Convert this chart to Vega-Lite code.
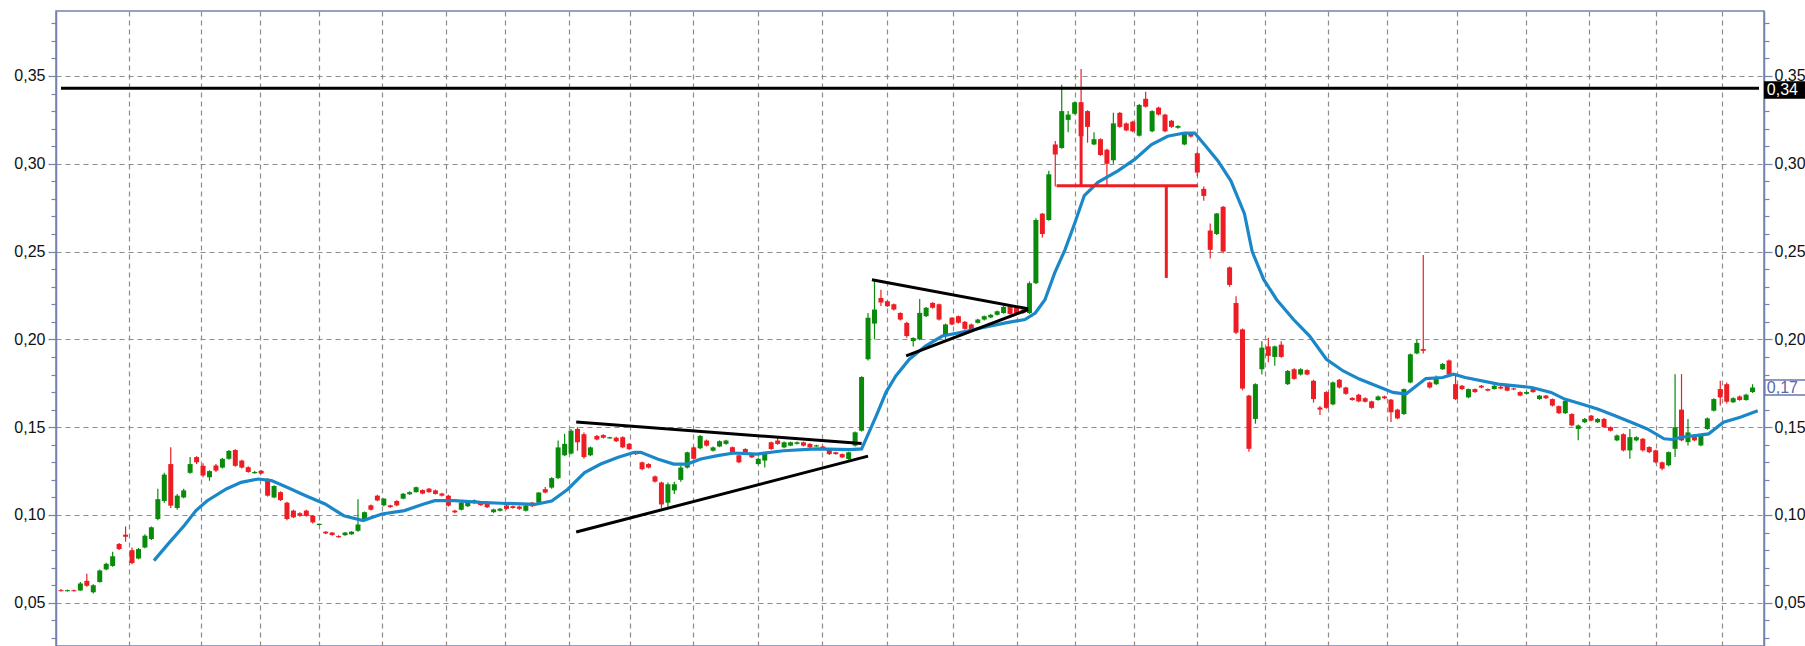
{
"$schema":"https://vega.github.io/schema/vega-lite/v6.json",
"autosize":{"type":"none"},
"width":1708,"height":635,
"padding":{"left":56,"right":41,"top":11,"bottom":0},
"background":"#ffffff",
"config":{"view":{"stroke":"#7483ad","strokeWidth":1.5}},
"datasets":{
"candles":[
{"t":0,"o":0.0572,"h":0.0578,"l":0.0565,"c":0.0566},{"t":1,"o":0.0566,"h":0.0575,"l":0.0564,"c":0.0572},{"t":2,"o":0.0572,"h":0.0576,"l":0.0565,"c":0.0566},{"t":3,"o":0.057,"h":0.0618,"l":0.0568,"c":0.061},{"t":4,"o":0.0625,"h":0.0665,"l":0.0592,"c":0.0597},{"t":5,"o":0.056,"h":0.0606,"l":0.0553,"c":0.06},{"t":6,"o":0.0618,"h":0.069,"l":0.0615,"c":0.0684},{"t":7,"o":0.069,"h":0.0728,"l":0.0686,"c":0.0722},{"t":8,"o":0.071,"h":0.079,"l":0.0705,"c":0.0765},{"t":9,"o":0.0835,"h":0.084,"l":0.08,"c":0.0806},
{"t":10,"o":0.0888,"h":0.0935,"l":0.0848,"c":0.0876},{"t":11,"o":0.08,"h":0.0815,"l":0.072,"c":0.0726},{"t":12,"o":0.0752,"h":0.0812,"l":0.0748,"c":0.0806},{"t":13,"o":0.0815,"h":0.089,"l":0.081,"c":0.0882},{"t":14,"o":0.0863,"h":0.0935,"l":0.0858,"c":0.093},{"t":15,"o":0.0977,"h":0.115,"l":0.097,"c":0.109},{"t":16,"o":0.108,"h":0.124,"l":0.107,"c":0.123},{"t":17,"o":0.129,"h":0.1386,"l":0.104,"c":0.1053},{"t":18,"o":0.104,"h":0.112,"l":0.103,"c":0.111},{"t":19,"o":0.11,"h":0.115,"l":0.1095,"c":0.114},
{"t":20,"o":0.124,"h":0.133,"l":0.1235,"c":0.129},{"t":21,"o":0.133,"h":0.1335,"l":0.129,"c":0.13},{"t":22,"o":0.128,"h":0.1295,"l":0.1215,"c":0.1225},{"t":23,"o":0.1215,"h":0.1255,"l":0.1195,"c":0.125},{"t":24,"o":0.1282,"h":0.129,"l":0.1245,"c":0.1253},{"t":25,"o":0.127,"h":0.1325,"l":0.1265,"c":0.132},{"t":26,"o":0.132,"h":0.137,"l":0.1315,"c":0.1365},{"t":27,"o":0.137,"h":0.1375,"l":0.1275,"c":0.128},{"t":28,"o":0.131,"h":0.1315,"l":0.1265,"c":0.127},{"t":29,"o":0.1272,"h":0.1278,"l":0.124,"c":0.1245},
{"t":30,"o":0.1238,"h":0.125,"l":0.1235,"c":0.1245},{"t":31,"o":0.1252,"h":0.1256,"l":0.1232,"c":0.1236},{"t":32,"o":0.1205,"h":0.121,"l":0.1105,"c":0.111},{"t":33,"o":0.11,"h":0.117,"l":0.1095,"c":0.1165},{"t":34,"o":0.113,"h":0.1135,"l":0.108,"c":0.1085},{"t":35,"o":0.107,"h":0.1075,"l":0.097,"c":0.0977},{"t":36,"o":0.1025,"h":0.103,"l":0.0982,"c":0.0987},{"t":37,"o":0.101,"h":0.1015,"l":0.099,"c":0.0995},{"t":38,"o":0.1025,"h":0.103,"l":0.099,"c":0.0995},{"t":39,"o":0.0996,"h":0.1,"l":0.0952,"c":0.0958},
{"t":40,"o":0.0943,"h":0.0952,"l":0.094,"c":0.095},{"t":41,"o":0.0905,"h":0.0908,"l":0.089,"c":0.0895},{"t":42,"o":0.09,"h":0.0903,"l":0.0882,"c":0.0886},{"t":43,"o":0.088,"h":0.0884,"l":0.087,"c":0.0873},{"t":44,"o":0.0885,"h":0.0903,"l":0.0882,"c":0.09},{"t":45,"o":0.089,"h":0.0908,"l":0.0887,"c":0.0905},{"t":46,"o":0.091,"h":0.109,"l":0.0905,"c":0.0946},{"t":47,"o":0.0977,"h":0.102,"l":0.0972,"c":0.1016},{"t":48,"o":0.1055,"h":0.106,"l":0.1025,"c":0.103},{"t":49,"o":0.111,"h":0.1115,"l":0.1078,"c":0.1083},
{"t":50,"o":0.1055,"h":0.1096,"l":0.105,"c":0.1093},{"t":51,"o":0.1055,"h":0.1058,"l":0.104,"c":0.1045},{"t":52,"o":0.108,"h":0.1084,"l":0.105,"c":0.1055},{"t":53,"o":0.1093,"h":0.1125,"l":0.109,"c":0.1121},{"t":54,"o":0.1118,"h":0.1135,"l":0.1115,"c":0.113},{"t":55,"o":0.113,"h":0.1162,"l":0.1128,"c":0.1158},{"t":56,"o":0.1142,"h":0.1146,"l":0.1118,"c":0.1122},{"t":57,"o":0.115,"h":0.1154,"l":0.1126,"c":0.113},{"t":58,"o":0.114,"h":0.1145,"l":0.1116,"c":0.112},{"t":59,"o":0.1122,"h":0.1126,"l":0.1106,"c":0.111},
{"t":60,"o":0.111,"h":0.1115,"l":0.1048,"c":0.1053},{"t":61,"o":0.1025,"h":0.103,"l":0.101,"c":0.1015},{"t":62,"o":0.103,"h":0.1074,"l":0.1026,"c":0.107},{"t":63,"o":0.105,"h":0.1074,"l":0.1046,"c":0.107},{"t":64,"o":0.1068,"h":0.1088,"l":0.1064,"c":0.1084},{"t":65,"o":0.1072,"h":0.1076,"l":0.1052,"c":0.1056},{"t":66,"o":0.1066,"h":0.107,"l":0.104,"c":0.1044},{"t":67,"o":0.1016,"h":0.1036,"l":0.1012,"c":0.1032},{"t":68,"o":0.1024,"h":0.104,"l":0.102,"c":0.1036},{"t":69,"o":0.1054,"h":0.1058,"l":0.103,"c":0.1035},
{"t":70,"o":0.105,"h":0.1054,"l":0.1036,"c":0.104},{"t":71,"o":0.1048,"h":0.1052,"l":0.103,"c":0.1035},{"t":72,"o":0.1024,"h":0.1058,"l":0.102,"c":0.1054},{"t":73,"o":0.107,"h":0.1074,"l":0.1046,"c":0.105},{"t":74,"o":0.107,"h":0.113,"l":0.1066,"c":0.1128},{"t":75,"o":0.1147,"h":0.116,"l":0.1124,"c":0.1128},{"t":76,"o":0.1156,"h":0.1215,"l":0.115,"c":0.121},{"t":77,"o":0.121,"h":0.1424,"l":0.1205,"c":0.1385},{"t":78,"o":0.134,"h":0.1462,"l":0.1335,"c":0.1405},{"t":79,"o":0.135,"h":0.149,"l":0.1345,"c":0.148},
{"t":80,"o":0.149,"h":0.15,"l":0.1366,"c":0.1414},{"t":81,"o":0.146,"h":0.147,"l":0.132,"c":0.133},{"t":82,"o":0.134,"h":0.139,"l":0.1335,"c":0.1385},{"t":83,"o":0.145,"h":0.1455,"l":0.1426,"c":0.143},{"t":84,"o":0.1455,"h":0.146,"l":0.1436,"c":0.144},{"t":85,"o":0.1436,"h":0.1446,"l":0.1434,"c":0.1443},{"t":86,"o":0.144,"h":0.1446,"l":0.1415,"c":0.142},{"t":87,"o":0.1443,"h":0.1448,"l":0.138,"c":0.1385},{"t":88,"o":0.1405,"h":0.141,"l":0.137,"c":0.1375},{"t":89,"o":0.1356,"h":0.136,"l":0.1342,"c":0.1346},
{"t":90,"o":0.13,"h":0.1305,"l":0.1255,"c":0.1261},{"t":91,"o":0.129,"h":0.1295,"l":0.1265,"c":0.127},{"t":92,"o":0.122,"h":0.1225,"l":0.1185,"c":0.119},{"t":93,"o":0.1185,"h":0.119,"l":0.104,"c":0.106},{"t":94,"o":0.107,"h":0.1185,"l":0.104,"c":0.1175},{"t":95,"o":0.114,"h":0.119,"l":0.112,"c":0.1175},{"t":96,"o":0.12,"h":0.128,"l":0.119,"c":0.127},{"t":97,"o":0.127,"h":0.136,"l":0.1265,"c":0.1357},{"t":98,"o":0.1385,"h":0.139,"l":0.1315,"c":0.132},{"t":99,"o":0.138,"h":0.1455,"l":0.1375,"c":0.145},
{"t":100,"o":0.1424,"h":0.143,"l":0.139,"c":0.1395},{"t":101,"o":0.1366,"h":0.139,"l":0.1362,"c":0.1385},{"t":102,"o":0.139,"h":0.1425,"l":0.1386,"c":0.142},{"t":103,"o":0.1405,"h":0.1428,"l":0.14,"c":0.1424},{"t":104,"o":0.1386,"h":0.139,"l":0.1352,"c":0.1357},{"t":105,"o":0.134,"h":0.1345,"l":0.1295,"c":0.13},{"t":106,"o":0.1376,"h":0.138,"l":0.1352,"c":0.1357},{"t":107,"o":0.1347,"h":0.135,"l":0.1324,"c":0.1328},{"t":108,"o":0.129,"h":0.1325,"l":0.1286,"c":0.132},{"t":109,"o":0.131,"h":0.135,"l":0.127,"c":0.1347},
{"t":110,"o":0.1414,"h":0.1418,"l":0.1372,"c":0.1376},{"t":111,"o":0.1424,"h":0.144,"l":0.14,"c":0.1405},{"t":112,"o":0.1385,"h":0.1418,"l":0.138,"c":0.1414},{"t":113,"o":0.1395,"h":0.1418,"l":0.1392,"c":0.1414},{"t":114,"o":0.1405,"h":0.1418,"l":0.1402,"c":0.1414},{"t":115,"o":0.1414,"h":0.1418,"l":0.139,"c":0.1395},{"t":116,"o":0.1405,"h":0.1408,"l":0.138,"c":0.1385},{"t":117,"o":0.139,"h":0.14,"l":0.1388,"c":0.1397},{"t":118,"o":0.139,"h":0.1394,"l":0.137,"c":0.1375},{"t":119,"o":0.1376,"h":0.138,"l":0.1342,"c":0.1347},
{"t":120,"o":0.1357,"h":0.136,"l":0.1343,"c":0.1347},{"t":121,"o":0.1347,"h":0.135,"l":0.1324,"c":0.1328},{"t":122,"o":0.1319,"h":0.136,"l":0.1315,"c":0.1357},{"t":123,"o":0.1395,"h":0.1475,"l":0.139,"c":0.1471},{"t":124,"o":0.148,"h":0.179,"l":0.1475,"c":0.1786},{"t":125,"o":0.1887,"h":0.215,"l":0.188,"c":0.2123},{"t":126,"o":0.209,"h":0.234,"l":0.2,"c":0.217},{"t":127,"o":0.2236,"h":0.2283,"l":0.219,"c":0.221},{"t":128,"o":0.2217,"h":0.2222,"l":0.2185,"c":0.2189},{"t":129,"o":0.22,"h":0.2205,"l":0.2165,"c":0.217},
{"t":130,"o":0.215,"h":0.2155,"l":0.2108,"c":0.2113},{"t":131,"o":0.2094,"h":0.21,"l":0.201,"c":0.2019},{"t":132,"o":0.199,"h":0.2012,"l":0.196,"c":0.2008},{"t":133,"o":0.2,"h":0.223,"l":0.1995,"c":0.2151},{"t":134,"o":0.2132,"h":0.2185,"l":0.2128,"c":0.218},{"t":135,"o":0.2208,"h":0.2212,"l":0.2175,"c":0.218},{"t":136,"o":0.22,"h":0.2205,"l":0.2108,"c":0.2113},{"t":137,"o":0.2019,"h":0.209,"l":0.2,"c":0.2085},{"t":138,"o":0.2123,"h":0.2128,"l":0.208,"c":0.2085},{"t":139,"o":0.2132,"h":0.2136,"l":0.209,"c":0.2095},
{"t":140,"o":0.21,"h":0.2104,"l":0.2055,"c":0.206},{"t":141,"o":0.2085,"h":0.209,"l":0.205,"c":0.2056},{"t":142,"o":0.2094,"h":0.2118,"l":0.209,"c":0.2113},{"t":143,"o":0.2113,"h":0.2136,"l":0.2108,"c":0.2132},{"t":144,"o":0.2125,"h":0.2145,"l":0.212,"c":0.214},{"t":145,"o":0.214,"h":0.2165,"l":0.2136,"c":0.216},{"t":146,"o":0.215,"h":0.219,"l":0.2146,"c":0.2185},{"t":147,"o":0.2189,"h":0.2194,"l":0.214,"c":0.2145},{"t":148,"o":0.218,"h":0.2185,"l":0.214,"c":0.2145},{"t":149,"o":0.217,"h":0.2175,"l":0.2145,"c":0.215},
{"t":150,"o":0.215,"h":0.233,"l":0.2145,"c":0.232},{"t":151,"o":0.232,"h":0.269,"l":0.2315,"c":0.268},{"t":152,"o":0.2716,"h":0.272,"l":0.258,"c":0.26},{"t":153,"o":0.268,"h":0.296,"l":0.2675,"c":0.294},{"t":154,"o":0.311,"h":0.313,"l":0.287,"c":0.3053},{"t":155,"o":0.309,"h":0.345,"l":0.3085,"c":0.33},{"t":156,"o":0.325,"h":0.33,"l":0.318,"c":0.328},{"t":157,"o":0.3285,"h":0.3355,"l":0.328,"c":0.335},{"t":158,"o":0.335,"h":0.354,"l":0.31,"c":0.3157},{"t":159,"o":0.33,"h":0.3305,"l":0.312,"c":0.321},
{"t":160,"o":0.311,"h":0.318,"l":0.3105,"c":0.314},{"t":161,"o":0.314,"h":0.3145,"l":0.3045,"c":0.305},{"t":162,"o":0.308,"h":0.3085,"l":0.2875,"c":0.3},{"t":163,"o":0.302,"h":0.329,"l":0.3,"c":0.323},{"t":164,"o":0.329,"h":0.3295,"l":0.3205,"c":0.321},{"t":165,"o":0.323,"h":0.3235,"l":0.3185,"c":0.319},{"t":166,"o":0.324,"h":0.3245,"l":0.318,"c":0.3185},{"t":167,"o":0.316,"h":0.334,"l":0.3155,"c":0.3335},{"t":168,"o":0.337,"h":0.341,"l":0.332,"c":0.3325},{"t":169,"o":0.3185,"h":0.3305,"l":0.318,"c":0.33},
{"t":170,"o":0.332,"h":0.3325,"l":0.3275,"c":0.328},{"t":171,"o":0.328,"h":0.3285,"l":0.318,"c":0.3185},{"t":172,"o":0.3245,"h":0.325,"l":0.3205,"c":0.321},{"t":173,"o":0.3205,"h":0.322,"l":0.32,"c":0.3215},{"t":174,"o":0.311,"h":0.318,"l":0.3105,"c":0.3175},{"t":175,"o":0.3175,"h":0.318,"l":0.315,"c":0.3155},{"t":176,"o":0.306,"h":0.307,"l":0.293,"c":0.295},{"t":177,"o":0.2857,"h":0.287,"l":0.279,"c":0.2817},{"t":178,"o":0.262,"h":0.266,"l":0.246,"c":0.251},{"t":179,"o":0.26,"h":0.272,"l":0.2595,"c":0.2717},
{"t":180,"o":0.2755,"h":0.276,"l":0.249,"c":0.25},{"t":181,"o":0.241,"h":0.2415,"l":0.23,"c":0.231},{"t":182,"o":0.2207,"h":0.2245,"l":0.203,"c":0.2038},{"t":183,"o":0.2057,"h":0.2062,"l":0.171,"c":0.172},{"t":184,"o":0.168,"h":0.1685,"l":0.136,"c":0.1377},{"t":185,"o":0.1547,"h":0.175,"l":0.152,"c":0.1745},{"t":186,"o":0.183,"h":0.199,"l":0.18,"c":0.1953},{"t":187,"o":0.196,"h":0.201,"l":0.187,"c":0.1906},{"t":188,"o":0.19,"h":0.1965,"l":0.185,"c":0.196},{"t":189,"o":0.197,"h":0.199,"l":0.1895,"c":0.19},
{"t":190,"o":0.1745,"h":0.1825,"l":0.174,"c":0.182},{"t":191,"o":0.183,"h":0.1835,"l":0.177,"c":0.1775},{"t":192,"o":0.18,"h":0.1835,"l":0.1795,"c":0.183},{"t":193,"o":0.1825,"h":0.183,"l":0.1796,"c":0.18},{"t":194,"o":0.1764,"h":0.177,"l":0.164,"c":0.166},{"t":195,"o":0.1612,"h":0.162,"l":0.157,"c":0.16},{"t":196,"o":0.17,"h":0.1705,"l":0.1605,"c":0.161},{"t":197,"o":0.163,"h":0.176,"l":0.1625,"c":0.1755},{"t":198,"o":0.177,"h":0.1775,"l":0.172,"c":0.1726},{"t":199,"o":0.1726,"h":0.173,"l":0.1685,"c":0.169},
{"t":200,"o":0.1667,"h":0.167,"l":0.165,"c":0.1655},{"t":201,"o":0.1685,"h":0.169,"l":0.1642,"c":0.1647},{"t":202,"o":0.1665,"h":0.167,"l":0.164,"c":0.1645},{"t":203,"o":0.1647,"h":0.165,"l":0.1605,"c":0.161},{"t":204,"o":0.1655,"h":0.168,"l":0.165,"c":0.1675},{"t":205,"o":0.1675,"h":0.168,"l":0.166,"c":0.1665},{"t":206,"o":0.1657,"h":0.166,"l":0.153,"c":0.1585},{"t":207,"o":0.16,"h":0.1605,"l":0.1545,"c":0.155},{"t":208,"o":0.1575,"h":0.172,"l":0.157,"c":0.1717},{"t":209,"o":0.1755,"h":0.192,"l":0.175,"c":0.1915},
{"t":210,"o":0.192,"h":0.2,"l":0.1915,"c":0.198},{"t":211,"o":0.1945,"h":0.248,"l":0.192,"c":0.1935},{"t":212,"o":0.1755,"h":0.176,"l":0.172,"c":0.1726},{"t":213,"o":0.1745,"h":0.1795,"l":0.174,"c":0.1774},{"t":214,"o":0.183,"h":0.1865,"l":0.1825,"c":0.186},{"t":215,"o":0.188,"h":0.1885,"l":0.1795,"c":0.18},{"t":216,"o":0.1745,"h":0.18,"l":0.1655,"c":0.166},{"t":217,"o":0.1736,"h":0.174,"l":0.1712,"c":0.1717},{"t":218,"o":0.167,"h":0.172,"l":0.1665,"c":0.1717},{"t":219,"o":0.1717,"h":0.172,"l":0.1696,"c":0.17},
{"t":220,"o":0.1736,"h":0.174,"l":0.1722,"c":0.1726},{"t":221,"o":0.1717,"h":0.172,"l":0.1704,"c":0.1708},{"t":222,"o":0.1717,"h":0.174,"l":0.1714,"c":0.1736},{"t":223,"o":0.173,"h":0.1734,"l":0.1716,"c":0.172},{"t":224,"o":0.1736,"h":0.174,"l":0.1704,"c":0.1708},{"t":225,"o":0.1721,"h":0.1725,"l":0.1711,"c":0.1715},{"t":226,"o":0.17,"h":0.1704,"l":0.1676,"c":0.168},{"t":227,"o":0.169,"h":0.1704,"l":0.1686,"c":0.17},{"t":228,"o":0.1717,"h":0.172,"l":0.1696,"c":0.17},{"t":229,"o":0.166,"h":0.1684,"l":0.1656,"c":0.168},
{"t":230,"o":0.168,"h":0.1684,"l":0.1661,"c":0.1665},{"t":231,"o":0.166,"h":0.1664,"l":0.1618,"c":0.1623},{"t":232,"o":0.162,"h":0.1624,"l":0.1575,"c":0.158},{"t":233,"o":0.158,"h":0.1655,"l":0.1575,"c":0.165},{"t":234,"o":0.1575,"h":0.158,"l":0.1505,"c":0.151},{"t":235,"o":0.149,"h":0.1515,"l":0.1425,"c":0.151},{"t":236,"o":0.1528,"h":0.1552,"l":0.1524,"c":0.1547},{"t":237,"o":0.1566,"h":0.157,"l":0.1534,"c":0.1538},{"t":238,"o":0.1528,"h":0.1552,"l":0.1524,"c":0.1547},{"t":239,"o":0.1547,"h":0.1552,"l":0.1495,"c":0.15},
{"t":240,"o":0.15,"h":0.1504,"l":0.1476,"c":0.148},{"t":241,"o":0.1425,"h":0.1458,"l":0.142,"c":0.1453},{"t":242,"o":0.146,"h":0.1465,"l":0.1362,"c":0.1368},{"t":243,"o":0.1368,"h":0.149,"l":0.132,"c":0.1443},{"t":244,"o":0.1425,"h":0.1448,"l":0.142,"c":0.1443},{"t":245,"o":0.1434,"h":0.1438,"l":0.1362,"c":0.1368},{"t":246,"o":0.1387,"h":0.1392,"l":0.1352,"c":0.1358},{"t":247,"o":0.1368,"h":0.1372,"l":0.1295,"c":0.13},{"t":248,"o":0.13,"h":0.1305,"l":0.1255,"c":0.1264},{"t":249,"o":0.1283,"h":0.1362,"l":0.1278,"c":0.1358},
{"t":250,"o":0.1377,"h":0.1802,"l":0.133,"c":0.15},{"t":251,"o":0.16,"h":0.1802,"l":0.142,"c":0.1425},{"t":252,"o":0.1415,"h":0.1547,"l":0.1396,"c":0.147},{"t":253,"o":0.1453,"h":0.1458,"l":0.142,"c":0.1425},{"t":254,"o":0.1396,"h":0.1458,"l":0.1392,"c":0.1453},{"t":255,"o":0.149,"h":0.1555,"l":0.1485,"c":0.155},{"t":256,"o":0.1594,"h":0.1665,"l":0.159,"c":0.166},{"t":257,"o":0.1717,"h":0.1764,"l":0.1623,"c":0.167},{"t":258,"o":0.1745,"h":0.1755,"l":0.1635,"c":0.1645},{"t":259,"o":0.1642,"h":0.167,"l":0.1638,"c":0.1665},
{"t":260,"o":0.1675,"h":0.168,"l":0.165,"c":0.1655},{"t":261,"o":0.1655,"h":0.169,"l":0.165,"c":0.1685},{"t":262,"o":0.17,"h":0.1745,"l":0.1695,"c":0.1726}
],
"ma":[
{"t":14.4,"v":0.074},{"t":16.8,"v":0.0844},{"t":19.1,"v":0.094},{"t":20.9,"v":0.1025},{"t":22.6,"v":0.108},{"t":25.6,"v":0.1148},{"t":27.9,"v":0.1186},{"t":30.6,"v":0.1205},{"t":32.6,"v":0.1196},{"t":35,"v":0.1158},{"t":37.9,"v":0.111},{"t":40.9,"v":0.1063},{"t":43.8,"v":0.0996},{"t":46.8,"v":0.0968},{"t":49.7,"v":0.1006},{"t":53.2,"v":0.1025},{"t":56.2,"v":0.1063},{"t":57.9,"v":0.1082},{"t":60.9,"v":0.1082},{"t":65,"v":0.1072},{"t":68.2,"v":0.1067},{"t":73.4,"v":0.106},{"t":76,"v":0.108},{"t":78.5,"v":0.1147},{"t":81.1,"v":0.1242},{"t":83.6,"v":0.129},{"t":86.2,"v":0.1328},{"t":88.8,"v":0.1357},{"t":89.8,"v":0.1357},{"t":92.4,"v":0.1319},{"t":94.9,"v":0.129},{"t":97,"v":0.129},{"t":99.1,"v":0.1319},{"t":101.7,"v":0.1338},{"t":104.2,"v":0.1353},{"t":107.8,"v":0.1347},{"t":111.9,"v":0.1366},{"t":117,"v":0.1376},{"t":122.2,"v":0.1372},{"t":124,"v":0.1376},{"t":124.7,"v":0.1433},{"t":126.3,"v":0.1567},{"t":127.8,"v":0.17},{"t":129.3,"v":0.1792},{"t":131.4,"v":0.1887},{"t":133.9,"v":0.1962},{"t":136.5,"v":0.2019},{"t":139.1,"v":0.2038},{"t":142.7,"v":0.2066},{"t":146.3,"v":0.2094},{"t":149.3,"v":0.2113},{"t":150.9,"v":0.215},{"t":152.4,"v":0.2226},{"t":153.9,"v":0.2377},{"t":155.5,"v":0.251},{"t":157,"v":0.266},{"t":158.5,"v":0.2819},{"t":160.6,"v":0.2894},{"t":163.7,"v":0.296},{"t":166.3,"v":0.3025},{"t":168.9,"v":0.311},{"t":171.4,"v":0.3157},{"t":174,"v":0.3175},{"t":175.6,"v":0.3175},{"t":177.1,"v":0.311},{"t":179.2,"v":0.3016},{"t":181.2,"v":0.2903},{"t":183.3,"v":0.2716},{"t":184.5,"v":0.25},{"t":186.3,"v":0.234},{"t":188.3,"v":0.2226},{"t":190.9,"v":0.2113},{"t":193.4,"v":0.2019},{"t":196,"v":0.1887},{"t":198.6,"v":0.182},{"t":201.1,"v":0.1774},{"t":203.7,"v":0.1736},{"t":206.3,"v":0.1698},{"t":208.3,"v":0.1689},{"t":211.4,"v":0.1777},{"t":214,"v":0.1783},{"t":215.7,"v":0.1802},{"t":217.5,"v":0.1783},{"t":222.6,"v":0.1745},{"t":227.8,"v":0.1726},{"t":230.8,"v":0.1698},{"t":232.9,"v":0.166},{"t":235.5,"v":0.1632},{"t":238,"v":0.1604},{"t":240.6,"v":0.1566},{"t":243.2,"v":0.1528},{"t":245.7,"v":0.149},{"t":248.3,"v":0.1434},{"t":249.6,"v":0.143},{"t":250.9,"v":0.1443},{"t":253.4,"v":0.1453},{"t":255.2,"v":0.1462},{"t":257.5,"v":0.1528},{"t":260.1,"v":0.1557},{"t":262.8,"v":0.1594}
],
"ann":[
{"t":0,"t2":263,"y":0.343,"y2":0.343,"k":"black"},
{"t":79.8,"t2":124,"y":0.1529,"y2":0.1407,"k":"black"},
{"t":79.8,"t2":125,"y":0.0903,"y2":0.1335,"k":"black"},
{"t":125.6,"t2":149.8,"y":0.234,"y2":0.2174,"k":"black"},
{"t":130.9,"t2":149.8,"y":0.1906,"y2":0.217,"k":"black"},
{"t":154.2,"t2":176.1,"y":0.2875,"y2":0.2875,"k":"red"},
{"t":171.2,"t2":171.2,"y":0.2875,"y2":0.235,"k":"red"},
{"t":158,"t2":158,"y":0.2875,"y2":0.335,"k":"red"}
],
"boxes":[
{"t":263.9,"t2":272,"y":0.3375,"y2":0.3465,"m":0.342,"lab":"0,34","k":"black"},
{"t":263.9,"t2":272,"y":0.1683,"y2":0.1769,"m":0.1726,"lab":"0,17","k":"blue"}
]
},
"encoding":{
"x":{"field":"t","type":"quantitative","scale":{"domain":[0,263],"nice":false,"zero":false},
"axis":{"values":[10.5,21.7,30.8,39.9,49.7,59.7,68.7,78.7,88.2,97.9,107.9,117.8,128.0,138.1,148.0,157.1,166.2,175.9,186.5,196.3,205.4,216.3,226.9,236.6,247.1,257.2],"grid":true,"gridColor":"#8c8c8c","gridDash":[5,4],"gridWidth":1.2,"labels":false,"ticks":false,"domain":false,"title":null}}
},
"layer":[
{"data":{"name":"candles"},"mark":{"type":"rule","strokeWidth":1.2},
"encoding":{
"y":{"field":"l","type":"quantitative","scale":{"domain":[0.0254,0.387],"nice":false,"zero":false},
"axis":{"orient":"left","values":[0.03,0.04,0.05,0.06,0.07,0.08,0.09,0.1,0.11,0.12,0.13,0.14,0.15,0.16,0.17,0.18,0.19,0.2,0.21,0.22,0.23,0.24,0.25,0.26,0.27,0.28,0.29,0.3,0.31,0.32,0.33,0.34,0.35,0.36,0.37,0.38],"title":null,"grid":true,"gridColor":"#8c8c8c","gridDash":[5,4],"gridWidth":1.2,
"gridOpacity":{"condition":{"test":"round(datum.value*100)%5===0","value":1},"value":0},
"tickSize":{"condition":{"test":"round(datum.value*100)%5===0","value":8},"value":5},
"tickColor":"#7483ad","tickWidth":1.2,"domainColor":"#7483ad","domainWidth":1.5,
"labelExpr":"round(datum.value*100)%5===0 ? replace(format(datum.value,'.2f'),'.',',') : ''",
"labelFont":"Liberation Sans","labelFontSize":16,"labelColor":"#111111","labelPadding":3}},
"y2":{"field":"h"},
"color":{"condition":{"test":"datum.c >= datum.o","value":"#0a8a0a"},"value":"#ee1d24"}}},
{"data":{"name":"candles"},"mark":{"type":"bar","size":5},
"encoding":{
"y":{"field":"o","type":"quantitative","scale":{"domain":[0.0254,0.387],"nice":false,"zero":false},"axis":null},
"y2":{"field":"c"},
"color":{"condition":{"test":"datum.c >= datum.o","value":"#0a8a0a"},"value":"#ee1d24"}}},
{"data":{"name":"ma"},"mark":{"type":"line","color":"#1a87c9","strokeWidth":3.2},
"encoding":{
"y":{"field":"v","type":"quantitative","scale":{"domain":[0.0254,0.387],"nice":false,"zero":false},
"axis":{"orient":"right","values":[0.03,0.04,0.05,0.06,0.07,0.08,0.09,0.1,0.11,0.12,0.13,0.14,0.15,0.16,0.17,0.18,0.19,0.2,0.21,0.22,0.23,0.24,0.25,0.26,0.27,0.28,0.29,0.3,0.31,0.32,0.33,0.34,0.35,0.36,0.37,0.38],"title":null,"grid":false,"zindex":0,
"tickSize":{"condition":{"test":"round(datum.value*100)%5===0","value":8},"value":5},
"tickColor":"#7483ad","tickWidth":1.2,"domainColor":"#7483ad","domainWidth":1.5,
"labelExpr":"round(datum.value*100)%5===0 ? replace(format(datum.value,'.2f'),'.',',') : ''",
"labelFont":"Liberation Sans","labelFontSize":16,"labelColor":"#111111","labelPadding":2}}}},
{"data":{"name":"ann"},"mark":{"type":"rule","strokeWidth":3},
"encoding":{
"x2":{"field":"t2"},
"y":{"field":"y","type":"quantitative","scale":{"domain":[0.0254,0.387],"nice":false,"zero":false},"axis":null},
"y2":{"field":"y2"},
"color":{"field":"k","type":"nominal","scale":{"domain":["black","red"],"range":["#000000","#ee1d24"]},"legend":null}}},
{"data":{"name":"boxes"},"mark":{"type":"rect","strokeWidth":1.5},
"encoding":{
"x2":{"field":"t2"},
"y":{"field":"y","type":"quantitative","scale":{"domain":[0.0254,0.387],"nice":false,"zero":false},"axis":null},
"y2":{"field":"y2"},
"fill":{"field":"k","type":"nominal","scale":{"domain":["black","blue"],"range":["#000000","#ffffff"]},"legend":null},
"stroke":{"field":"k","type":"nominal","scale":{"domain":["black","blue"],"range":["#000000","#6a78b0"]},"legend":null}}},
{"data":{"name":"boxes"},"mark":{"type":"text","align":"left","baseline":"middle","dx":2,"font":"Liberation Sans","fontSize":16},
"encoding":{
"y":{"field":"m","type":"quantitative","scale":{"domain":[0.0254,0.387],"nice":false,"zero":false},"axis":null},
"text":{"field":"lab"},
"color":{"field":"k","type":"nominal","scale":{"domain":["black","blue"],"range":["#ffffff","#5a68a8"]},"legend":null}}}
],
"resolve":{"axis":{"y":"independent"},"scale":{"color":"independent","fill":"independent","stroke":"independent"}}
}
